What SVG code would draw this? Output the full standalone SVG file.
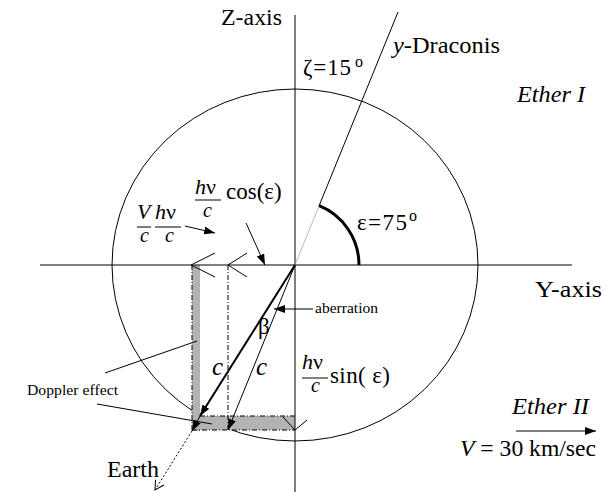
<svg xmlns="http://www.w3.org/2000/svg" width="610" height="492" viewBox="0 0 610 492">
<defs>
<style>
text{font-family:"Liberation Serif","Times New Roman",serif;fill:#000}
.l{font-size:23px}
.n{font-size:22px}
.d{font-size:20px;font-style:italic}
.i{font-style:italic}
.ln{stroke:#000;stroke-width:1;fill:none}
.dd{stroke:#000;stroke-width:1;fill:none;stroke-dasharray:5,2,1,2}
.gray{fill:#b3b3b3;stroke:none}
</style>
<marker id="ah" markerUnits="userSpaceOnUse" markerWidth="12" markerHeight="8" refX="11" refY="4" orient="auto">
<path d="M0,0 L11,4 L0,8 Z" fill="#000"/>
</marker>
<marker id="ao" markerUnits="userSpaceOnUse" markerWidth="12" markerHeight="12" refX="10" refY="6" orient="auto">
<path d="M1,1 L10,6 L1,11" fill="none" stroke="#000" stroke-width="1"/>
</marker>
</defs>

<g id="ether-circle">
<ellipse cx="295" cy="265" rx="183" ry="176" class="ln"/>
</g>

<g id="bars">
<rect class="gray" x="192" y="265" width="8" height="166"/>
<rect class="gray" x="192" y="416" width="103" height="14"/>
</g>

<g id="axes">
<line x1="295" y1="15" x2="295" y2="492" class="ln"/>
<line x1="40" y1="265" x2="572" y2="265" class="ln"/>
<text class="l" x="221" y="25" textLength="61" lengthAdjust="spacingAndGlyphs">Z-axis</text>
<text class="l" x="535" y="297" textLength="67" lengthAdjust="spacingAndGlyphs">Y-axis</text>
</g>

<g id="connectors">
<line x1="295" y1="265" x2="319" y2="206" stroke="#999" stroke-width="0.7"/>
<line x1="319" y1="206" x2="398" y2="12" class="ln"/>
<path d="M319.2,205.7 A64,64 0 0 1 359,265" fill="none" stroke="#000" stroke-width="3"/>
<line x1="192" y1="265" x2="192" y2="430" class="dd"/>
<line x1="228" y1="265" x2="228" y2="430" class="dd"/>
<line x1="200" y1="416" x2="295" y2="416" class="dd"/>
<line x1="192" y1="430" x2="295" y2="430" class="dd"/>
<path d="M215,253 L191,265 L215,277" class="ln"/>
<path d="M247,253 L228,265 L247,277" class="ln"/>
<path d="M283,417 L295,430 L307,420" class="ln"/>
<line x1="295" y1="265" x2="200" y2="416" stroke="#000" stroke-width="2" marker-end="url(#ah)"/>
<line x1="295" y1="265" x2="228" y2="430" class="ln" marker-end="url(#ah)"/>
<line x1="200" y1="416" x2="192" y2="431" class="ln" marker-end="url(#ah)"/>
<line x1="192" y1="431" x2="155" y2="490" class="ln" stroke-dasharray="2,2" marker-end="url(#ao)"/>
<line x1="185" y1="226" x2="215" y2="233" class="ln" marker-end="url(#ah)"/>
<line x1="246" y1="223" x2="265" y2="265" class="ln" marker-end="url(#ah)"/>
<line x1="313" y1="309" x2="274" y2="309" class="ln" marker-end="url(#ah)"/>
<line x1="105" y1="373" x2="197" y2="341" class="ln"/>
<line x1="97" y1="404" x2="212" y2="424" class="ln"/>
<line x1="516" y1="431" x2="596" y2="431" class="ln" marker-end="url(#ah)"/>
<line x1="195" y1="200" x2="221" y2="200" class="ln"/>
<line x1="137" y1="227" x2="151" y2="227" class="ln"/>
<line x1="155" y1="227" x2="181" y2="227" class="ln"/>
<line x1="302" y1="378" x2="328" y2="378" class="ln"/>
</g>

<g id="labels">
<text class="l" x="303" y="75" textLength="48" lengthAdjust="spacing">ζ=15</text>
<text x="355" y="67" font-size="16">o</text>
<text class="l" x="393" y="53" textLength="107" lengthAdjust="spacingAndGlyphs"><tspan class="i">y</tspan>-Draconis</text>
<text class="l i" x="517" y="102" textLength="68" lengthAdjust="spacingAndGlyphs">Ether I</text>
<text class="l" x="357" y="230" textLength="50" lengthAdjust="spacing">ε=75</text>
<text x="409" y="221" font-size="16">o</text>

<text class="n" x="195" y="194"><tspan class="i">h</tspan>ν</text>
<text class="d" x="203" y="217">c</text>
<text class="l" x="226" y="199">cos(ε)</text>

<text class="n i" x="137" y="219">V</text>
<text class="d" x="140" y="242">c</text>
<text class="n" x="155" y="219"><tspan class="i">h</tspan>ν</text>
<text class="d" x="165" y="242">c</text>

<text class="n" x="302" y="369"><tspan class="i">h</tspan>ν</text>
<text class="d" x="311" y="392">c</text>
<text class="l" x="330" y="383" textLength="60" lengthAdjust="spacing">sin( ε)</text>

<text x="315" y="313" font-size="14" textLength="63" lengthAdjust="spacingAndGlyphs">aberration</text>
<text class="l" x="258" y="334">β</text>
<text x="212" y="375" font-size="25" class="i">c</text>
<text x="256" y="375" font-size="25" class="i">c</text>
<text x="27" y="395" font-size="15" textLength="91" lengthAdjust="spacingAndGlyphs">Doppler effect</text>
<text x="107" y="477" font-size="24" textLength="52" lengthAdjust="spacingAndGlyphs">Earth</text>
<text class="l i" x="512" y="414" textLength="77" lengthAdjust="spacingAndGlyphs">Ether II</text>
<text class="l" x="460" y="456" textLength="136" lengthAdjust="spacingAndGlyphs"><tspan class="i">V</tspan> = 30 km/sec</text>
</g>
</svg>
